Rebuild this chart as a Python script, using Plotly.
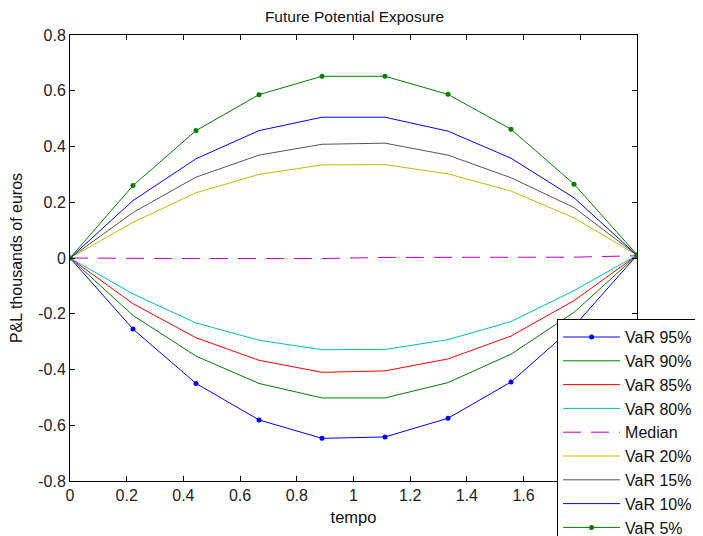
import plotly.graph_objects as go

tempo = [0, 2/9, 4/9, 6/9, 8/9, 10/9, 12/9, 14/9, 16/9, 2.0]

series_names = ["VaR 95%", "VaR 90%", "VaR 85%", "VaR 80%", "Median",
                "VaR 20%", "VaR 15%", "VaR 10%", "VaR 5%"]

var95 = [0, -0.255, -0.450, -0.581, -0.647, -0.642, -0.575, -0.445, -0.245, 0.010]
var90 = [0, -0.206, -0.352, -0.450, -0.502, -0.502, -0.447, -0.345, -0.195, 0.010]
var85 = [0, -0.164, -0.286, -0.367, -0.410, -0.405, -0.362, -0.280, -0.153, 0.010]
var80 = [0, -0.129, -0.233, -0.295, -0.329, -0.328, -0.293, -0.228, -0.117, 0.010]
median = [0, -0.002, -0.002, -0.002, -0.002, 0.002, 0.002, 0.002, 0.003, 0.008]
var20 = [0, 0.128, 0.234, 0.300, 0.334, 0.335, 0.302, 0.240, 0.144, 0.010]
var15 = [0, 0.163, 0.290, 0.369, 0.408, 0.412, 0.369, 0.288, 0.181, 0.010]
var10 = [0, 0.206, 0.356, 0.457, 0.505, 0.505, 0.455, 0.358, 0.216, 0.010]
var5 = [0, 0.260, 0.457, 0.586, 0.652, 0.652, 0.587, 0.462, 0.265, 0.012]

values = [var95, var90, var85, var80, median, var20, var15, var10, var5]

colors = ["#0000ff", "#008000", "#ff0000", "#00bfbf", "#bf00bf",
          "#bfbf00", "#555555", "#0000ff", "#008000"]
dashes = ["solid", "solid", "solid", "solid", "18px,10px", "solid", "solid", "solid", "solid"]
with_markers = [True, False, False, False, False, False, False, False, True]

x_ticks = [0, 0.2, 0.4, 0.6, 0.8, 1, 1.2, 1.4, 1.6, 1.8, 2]
x_tick_text = ["0", "0.2", "0.4", "0.6", "0.8", "1", "1.2", "1.4", "1.6", "1.8", "2"]
y_ticks = [-0.8, -0.6, -0.4, -0.2, 0, 0.2, 0.4, 0.6, 0.8]
y_tick_text = ["-0.8", "-0.6", "-0.4", "-0.2", "0", "0.2", "0.4", "0.6", "0.8"]

FONT = "Liberation Sans, Arial, sans-serif"

fig = go.Figure()
for i, (name, vals) in enumerate(zip(series_names, values)):
    fig.add_trace(go.Scatter(
        x=tempo, y=vals, name=name,
        mode="lines+markers" if with_markers[i] else "lines",
        line=dict(color=colors[i], width=1, dash=dashes[i]),
        marker=dict(size=5, color=colors[i]),
        legendgroup=f"g{i}",
    ))

axis_common = dict(
    showgrid=False, zeroline=False, showline=True, linecolor="black", linewidth=1,
    mirror="ticks", ticks="inside", ticklen=5, tickcolor="black",
    tickfont=dict(family=FONT, size=16, color="#222"),
)

# The page body adds an 8px offset, so the figure is sized to fill the rest of the window.
fig.update_layout(
    width=695, height=528,
    margin=dict(l=62, r=66, t=27, b=55, autoexpand=False),
    paper_bgcolor="white", plot_bgcolor="white",
    title=dict(text="Future Potential Exposure", x=0.4986, xanchor="center",
               xref="container", y=0.983, yref="container", yanchor="middle",
               font=dict(family=FONT, size=15.5, color="#111")),
    xaxis=dict(range=[0, 2], tickvals=x_ticks, ticktext=x_tick_text,
               title=dict(text="tempo", font=dict(family=FONT, size=16.5, color="#111"), standoff=8),
               **axis_common),
    yaxis=dict(range=[-0.8, 0.8], tickvals=y_ticks, ticktext=y_tick_text,
               title=dict(text="P&L thousands of euros", font=dict(family=FONT, size=16, color="#111"), standoff=15),
               **axis_common),
    legend=dict(x=0.859, y=0.363, xanchor="left", yanchor="top",
                bgcolor="white", bordercolor="black", borderwidth=1,
                font=dict(family=FONT, size=16, color="#111"),
                itemwidth=57,
                traceorder="grouped", tracegroupgap=0),
    showlegend=True,
)

fig.write_html("out.html")
